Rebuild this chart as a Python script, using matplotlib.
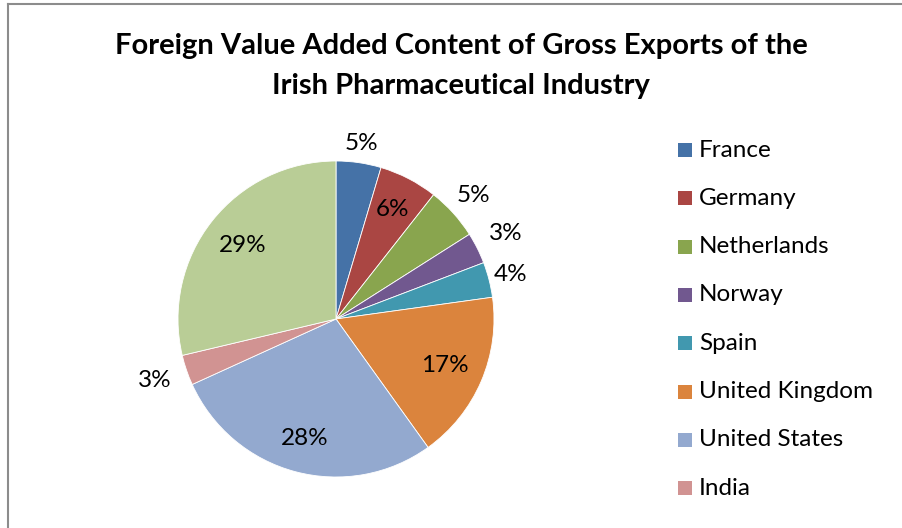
import numpy as np
import matplotlib
matplotlib.use('Agg')
import matplotlib.pyplot as plt
from matplotlib.patches import Rectangle
from matplotlib.lines import Line2D

plt.rcParams['font.family'] = ['Lato', 'DejaVu Sans']

countries = ['France', 'Germany', 'Netherlands', 'Norway', 'Spain',
             'United Kingdom', 'United States', 'India', 'Rest of World']
shares = [4.6, 6.0, 5.4, 3.2, 3.6, 17.3, 28.1, 3.1, 28.7]
colors = ['#4572A7', '#AA4643', '#89A54E', '#71588F', '#4198AF',
          '#DB843D', '#93A9CF', '#D19392', '#B9CD96']
# radial position of each percentage label (fraction of radius)
label_r = [1.12, 0.78, 1.17, 1.20, 1.14, 0.75, 0.78, 1.21, 0.75]
n_legend = 8

W, H = 903, 528
fig = plt.figure(figsize=(W / 100, H / 100), dpi=100)

# chart frame
fig.add_artist(Line2D([8 / W, 8 / W], [0, 1 - 4 / H], transform=fig.transFigure,
                      color='#8c8c8c', lw=1.5))
fig.add_artist(Line2D([8 / W, 1], [1 - 4 / H, 1 - 4 / H], transform=fig.transFigure,
                      color='#8c8c8c', lw=1.5))

cx, cy, R = 336, 319, 158
ax = fig.add_axes([(cx - R) / W, (H - cy - R) / H, 2 * R / W, 2 * R / H])
wedges, _ = ax.pie(shares, colors=colors, startangle=90, counterclock=False,
                   wedgeprops=dict(edgecolor='white', linewidth=0.6))
ax.set_xlim(-1, 1)
ax.set_ylim(-1, 1)
ax.axis('off')

for w, v, r in zip(wedges, shares, label_r):
    ang = np.deg2rad((w.theta1 + w.theta2) / 2)
    ax.text(r * np.cos(ang), r * np.sin(ang), '{:.0f}%'.format(v),
            ha='center', va='center', fontsize=17.5, color='black')

fig.text(461 / W, 1 - 46 / H, 'Foreign Value Added Content of Gross Exports of the',
         ha='center', va='center', fontsize=21, fontweight='bold')
fig.text(461 / W, 1 - 86 / H, 'Irish Pharmaceutical Industry',
         ha='center', va='center', fontsize=21, fontweight='bold')

# legend
y0, dy = 150, 48.3
for i in range(n_legend):
    y = y0 + i * dy
    fig.add_artist(Rectangle((678 / W, 1 - (y + 7) / H), 14 / W, 14 / H,
                             transform=fig.transFigure, facecolor=colors[i],
                             edgecolor='none'))
    fig.text(699 / W, 1 - y / H, countries[i], ha='left', va='center',
             fontsize=17.5)

fig.savefig('out.png', dpi=100)
